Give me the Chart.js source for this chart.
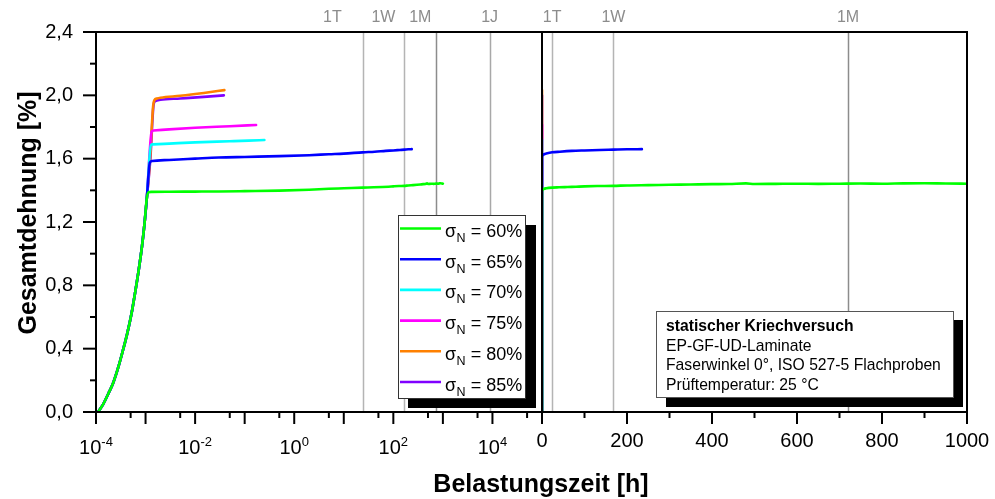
<!DOCTYPE html>
<html>
<head>
<meta charset="utf-8">
<script src="https://cdn.jsdelivr.net/npm/chart.js@4.4.1/dist/chart.umd.min.js"></script>
<style>
  html, body { margin: 0; padding: 0; background: #fff; }
  #wrap { position: relative; width: 995px; height: 499px; }
  #wrap canvas { position: absolute; left: 0; top: 0; }
</style>
</head>
<body>
<div id="wrap">
  <canvas id="logChart" width="995" height="499"></canvas>
  <canvas id="linChart" width="995" height="499"></canvas>
</div>
<script>
// Creep test: total strain vs. loading time for six stress levels
const stressLevels = ['60%', '65%', '70%', '75%', '80%', '85%'];
const seriesColors = ['#00ff00', '#0000ff', '#00ffff', '#ff00ff', '#ff8000', '#8000ff'];

// loading ramp shared by all specimens: time [h], strain [%]
const rampTime   = [1.1e-4, 1.4e-4, 1.8e-4, 2.2e-4, 2.8e-4, 3.5e-4, 4.3e-4, 5.2e-4, 6.2e-4, 7.3e-4, 8.5e-4, 9.6e-4, 1.06e-3];
const rampStrain = [0, 0.05, 0.12, 0.18, 0.28, 0.39, 0.50, 0.62, 0.76, 0.90, 1.05, 1.20, 1.35];

// creep phase per stress level: time [h], strain [%]
const time60   = [1.15e-3, 1.3e-3, 3e-3, 0.01, 0.03, 0.1, 0.5, 2, 5, 10, 24, 40, 60, 80, 100, 130, 168, 200, 250, 300, 350, 400, 440, 480, 500, 550, 600, 650, 700, 750, 800, 850, 900, 950, 1000];
const strain60 = [1.388, 1.390, 1.391, 1.392, 1.393, 1.395, 1.398, 1.404, 1.410, 1.413, 1.417, 1.419, 1.421, 1.423, 1.425, 1.427, 1.428, 1.431, 1.433, 1.435, 1.437, 1.439, 1.440, 1.444, 1.440, 1.441, 1.442, 1.441, 1.442, 1.443, 1.442, 1.444, 1.445, 1.443, 1.442];

const time65   = [1.22e-3, 1.35e-3, 3e-3, 0.01, 0.03, 0.1, 0.5, 2, 5, 10, 24, 42, 70, 100, 136, 168, 200, 235];
const strain65 = [1.575, 1.585, 1.592, 1.600, 1.607, 1.611, 1.616, 1.622, 1.628, 1.632, 1.640, 1.644, 1.649, 1.652, 1.655, 1.657, 1.659, 1.660];

const time70   = [1.28e-3, 1.4e-3, 3e-3, 0.01, 0.05, 0.12, 0.25];
const strain70 = [1.685, 1.690, 1.695, 1.703, 1.710, 1.714, 1.718];

const time75   = [1.33e-3, 1.45e-3, 3e-3, 0.01, 0.05, 0.17];
const strain75 = [1.772, 1.778, 1.785, 1.795, 1.805, 1.813];

const time80   = [1.23e-3, 1.42e-3, 1.5e-3, 1.7e-3, 2e-3, 0.005, 0.015, 0.039];
const strain80 = [1.590, 1.930, 1.968, 1.980, 1.985, 1.997, 2.015, 2.033];

const time85   = [1.25e-3, 1.45e-3, 1.55e-3, 2e-3, 0.005, 0.015, 0.038];
const strain85 = [1.600, 1.940, 1.962, 1.972, 1.980, 1.990, 2.000];

// reference durations [h]: day, week, month, year
const refLabels = ['1T', '1W', '1M', '1J'];
const refTimes = [24, 168, 720, 8760];
const refLabelTimesLog = [5.9, 63, 350, 8760];
const refColors = ['#b4b4b4', '#b4b4b4', '#8c8c8c', '#a8a8a8'];

// axis ticks
const strainTicksMajor = [0, 0.4, 0.8, 1.2, 1.6, 2.0, 2.4];
const strainTicksMinor = [0.2, 0.6, 1.0, 1.4, 1.8, 2.2];
const logExponents = [-4, -3, -2, -1, 0, 1, 2, 3, 4, 5];
const logLabelExponents = [-4, -2, 0, 2, 4];
const linTicksMajor = [0, 200, 400, 600, 800, 1000];
const linTicksMinor = [100, 300, 500, 700, 900];

const infoLines = ['statischer Kriechversuch', 'EP-GF-UD-Laminate', 'Faserwinkel 0°, ISO 527-5 Flachproben', 'Prüftemperatur: 25 °C'];

const FF = "'Liberation Sans', Arial, Helvetica, sans-serif";

const creepTimes = [time60, time65, time70, time75, time80, time85];
const creepStrains = [strain60, strain65, strain70, strain75, strain80, strain85];

function buildDatasets() {
  return stressLevels.map((lvl, i) => {
    const t = rampTime.concat(creepTimes[i]);
    const e = rampStrain.concat(creepStrains[i]);
    return {
      label: 'σN = ' + lvl,
      data: t.map((v, k) => ({ x: v, y: e[k] })),
      borderColor: seriesColors[i],
      backgroundColor: seriesColors[i],
      borderWidth: 2.6,
      pointRadius: 0,
      fill: false,
      cubicInterpolationMode: 'monotone',
      borderJoinStyle: 'round',
      borderCapStyle: 'round'
    };
  });
}

function line(ctx, x1, y1, x2, y2) {
  ctx.beginPath(); ctx.moveTo(x1, y1); ctx.lineTo(x2, y2); ctx.stroke();
}

function drawYTicks(ctx, chart) {
  const y = chart.scales.y, a = chart.chartArea;
  ctx.strokeStyle = '#000'; ctx.lineWidth = 2;
  strainTicksMajor.forEach(v => { const p = y.getPixelForValue(v); line(ctx, a.left - 13, p, a.left, p); });
  strainTicksMinor.forEach(v => { const p = y.getPixelForValue(v); line(ctx, a.left - 6, p, a.left, p); });
}

function drawRefLines(chart, labelTimes, count) {
  const { ctx, chartArea: a, scales: { x } } = chart;
  ctx.save();
  ctx.lineWidth = 1.5;
  for (let i = 0; i < count; i++) {
    const p = Math.round(x.getPixelForValue(refTimes[i])) + 0.5;
    ctx.strokeStyle = refColors[i];
    line(ctx, p, a.top, p, a.bottom);
    ctx.fillStyle = '#8c8c8c';
    ctx.font = `16px ${FF}`;
    ctx.textAlign = 'center';
    ctx.textBaseline = 'alphabetic';
    ctx.fillText(refLabels[i], x.getPixelForValue(labelTimes[i]), 21.5);
  }
  ctx.restore();
}

const logDecor = {
  id: 'logDecor',
  beforeDatasetsDraw(chart) {
    drawRefLines(chart, refLabelTimesLog, 4);
  },
  afterDatasetsDraw(chart) {
    const { ctx, chartArea: a, scales: { x } } = chart;
    ctx.save();
    // frame
    ctx.strokeStyle = '#000'; ctx.lineWidth = 2; ctx.lineCap = 'butt';
    line(ctx, a.left, a.top, a.right, a.top);
    line(ctx, a.left, a.top - 1, a.left, a.bottom + 1);
    line(ctx, a.left, a.bottom, a.right, a.bottom);
    drawYTicks(ctx, chart);
    // log ticks: decades long, 5x short
    logExponents.forEach(e => {
      const p = x.getPixelForValue(Math.pow(10, e));
      line(ctx, p, a.bottom, p, a.bottom + 12);
      if (e < 5) {
        const q = x.getPixelForValue(5 * Math.pow(10, e));
        line(ctx, q, a.bottom, q, a.bottom + 6);
      }
    });
    // power-of-ten labels
    ctx.fillStyle = '#000'; ctx.textAlign = 'left'; ctx.textBaseline = 'alphabetic';
    logLabelExponents.forEach(e => {
      const p = x.getPixelForValue(Math.pow(10, e));
      ctx.font = `20px ${FF}`;
      const wb = ctx.measureText('10').width;
      ctx.font = `13px ${FF}`;
      const es = String(e);
      const we = ctx.measureText(es).width;
      const sx = p - (wb + we) / 2;
      ctx.font = `20px ${FF}`;
      ctx.fillText('10', sx, 454);
      ctx.font = `13px ${FF}`;
      ctx.fillText(es, sx + wb, 446);
    });
    // legend with drop shadow
    const L = { x: 398, y: 215, w: 127, h: 183, sh: 10 };
    ctx.fillStyle = '#000';
    ctx.fillRect(L.x + L.sh, L.y + L.sh, L.w + 1, L.h);
    ctx.fillStyle = '#fff';
    ctx.fillRect(L.x, L.y, L.w, L.h);
    ctx.strokeStyle = '#333'; ctx.lineWidth = 1;
    ctx.strokeRect(L.x + 0.5, L.y + 0.5, L.w, L.h);
    stressLevels.forEach((lvl, i) => {
      const cy = 228.5 + i * 30.7;
      ctx.strokeStyle = seriesColors[i]; ctx.lineWidth = 2.6;
      line(ctx, L.x + 2, cy, L.x + 43, cy);
      ctx.fillStyle = '#000';
      let tx = L.x + 47;
      ctx.font = `18px ${FF}`;
      ctx.fillText('σ', tx, cy + 8.5);
      tx += ctx.measureText('σ').width;
      ctx.font = `12.5px ${FF}`;
      ctx.fillText('N', tx + 0.5, cy + 13.5);
      tx += ctx.measureText('N').width + 0.5;
      ctx.font = `18px ${FF}`;
      ctx.fillText(' = ' + lvl, tx, cy + 8.5);
    });
    // axis titles
    ctx.fillStyle = '#000';
    ctx.font = `bold 25px ${FF}`;
    ctx.textAlign = 'center';
    ctx.fillText('Belastungszeit [h]', 541, 492);
    ctx.translate(36, 213);
    ctx.rotate(-Math.PI / 2);
    ctx.fillText('Gesamtdehnung [%]', 0, 0);
    ctx.restore();
  }
};

const linDecor = {
  id: 'linDecor',
  beforeDatasetsDraw(chart) {
    drawRefLines(chart, refTimes, 3);
  },
  afterDatasetsDraw(chart) {
    const { ctx, chartArea: a, scales: { x } } = chart;
    ctx.save();
    ctx.strokeStyle = '#000'; ctx.lineWidth = 2;
    line(ctx, a.left, a.top, a.right + 1, a.top);
    line(ctx, a.left, a.bottom, a.right + 1, a.bottom);
    line(ctx, a.left, a.top - 1, a.left, a.bottom + 1);
    line(ctx, a.right, a.top - 1, a.right, a.bottom + 1);
    linTicksMajor.forEach(v => { const p = x.getPixelForValue(v); line(ctx, p, a.bottom, p, a.bottom + 12); });
    linTicksMinor.forEach(v => { const p = x.getPixelForValue(v); line(ctx, p, a.bottom, p, a.bottom + 6); });
    // test conditions box with drop shadow
    const B = { x: 656, y: 311, w: 297, h: 86, sh: 10 };
    ctx.fillStyle = '#000';
    ctx.fillRect(B.x + B.sh, B.y + B.sh - 1, B.w, B.h + 1);
    ctx.fillStyle = '#fff';
    ctx.fillRect(B.x, B.y, B.w, B.h);
    ctx.strokeStyle = '#555'; ctx.lineWidth = 1;
    ctx.strokeRect(B.x + 0.5, B.y + 0.5, B.w, B.h);
    ctx.fillStyle = '#000'; ctx.textAlign = 'left'; ctx.textBaseline = 'alphabetic';
    infoLines.forEach((s, i) => {
      ctx.font = (i === 0 ? 'bold ' : '') + `15.7px ${FF}`;
      ctx.fillText(s, 666, 331 + i * 19.5);
    });
    ctx.restore();
  }
};

const hiddenGrid = { display: true, drawOnChartArea: false, drawTicks: true, tickLength: 12, color: 'rgba(0,0,0,0)' };

new Chart(document.getElementById('logChart'), {
  type: 'line',
  data: { datasets: buildDatasets() },
  options: {
    responsive: false, animation: false, devicePixelRatio: 1,
    layout: { padding: { left: 0, top: 32, right: 453, bottom: 0 } },
    plugins: { legend: { display: false }, tooltip: { enabled: false } },
    scales: {
      x: {
        type: 'logarithmic', min: 1e-4, max: 1e5,
        grid: hiddenGrid, border: { display: false },
        ticks: { display: false },
        afterFit(s) { s.height = 87; }
      },
      y: {
        type: 'linear', min: 0, max: 2.4,
        grid: Object.assign({}, hiddenGrid, { tickLength: 13 }), border: { display: false },
        ticks: {
          stepSize: 0.4, padding: 10, color: '#000',
          font: { family: FF, size: 20 },
          callback: v => Number(v).toFixed(1).replace('.', ',')
        },
        afterFit(s) { s.width = 96; }
      }
    }
  },
  plugins: [logDecor]
});

new Chart(document.getElementById('linChart'), {
  type: 'line',
  data: { datasets: buildDatasets() },
  options: {
    responsive: false, animation: false, devicePixelRatio: 1,
    layout: { padding: { left: 542, top: 32, right: 28, bottom: 0 } },
    plugins: { legend: { display: false }, tooltip: { enabled: false } },
    scales: {
      x: {
        type: 'linear', min: 0, max: 1000,
        grid: hiddenGrid, border: { display: false },
        ticks: {
          stepSize: 200, padding: 5, color: '#000', maxRotation: 0,
          font: { family: FF, size: 20 },
          callback: v => String(v)
        },
        afterFit(s) { s.height = 87; }
      },
      y: { type: 'linear', min: 0, max: 2.4, display: false }
    }
  },
  plugins: [linDecor]
});
</script>
</body>
</html>
